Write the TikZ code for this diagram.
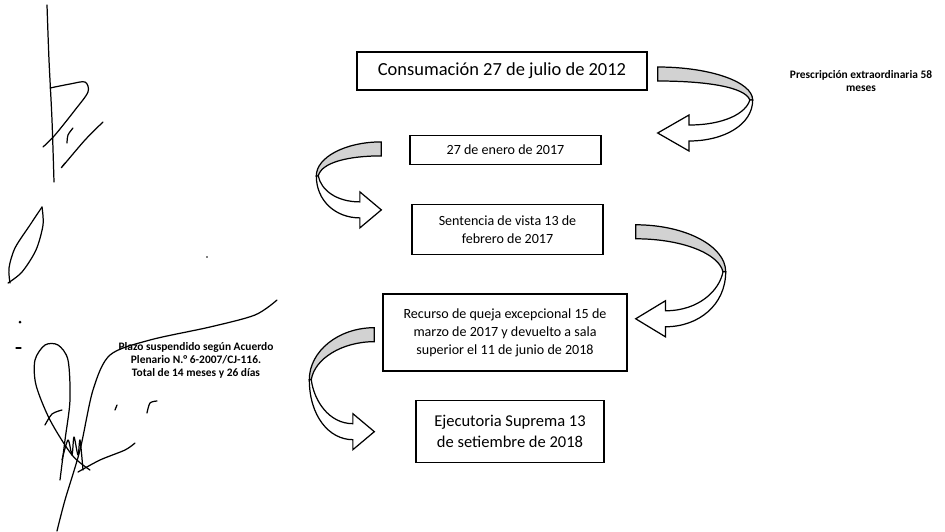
\documentclass[tikz,border=0pt]{standalone}
\usepackage{fontspec}
\setmainfont{Carlito}
\usetikzlibrary{positioning, calc}
\newcommand{\Fs}[2]{\fontsize{#1}{#2}\selectfont}
\tikzset{
    hito/.style={draw, line width=0.8pt, align=center, inner sep=2pt},
    nota/.style={align=center, font=\bfseries\fontsize{6.5}{7.4}\selectfont},
    band back/.style={draw, line width=0.7pt, fill=gray!35},
    band front/.style={draw, line width=0.7pt, fill=white},
    pen/.style={line width=0.7pt, line cap=round, line join=round},
    ribbon w/.initial=90,
    ribbon h/.initial=70,
    ribbon/.pic={
      \pgfmathsetmacro{\W}{\pgfkeysvalueof{/tikz/ribbon w}}
      \pgfmathsetmacro{\H}{\pgfkeysvalueof{/tikz/ribbon h}}
      \pgfmathsetmacro{\J}{0.5*\H}
      \pgfmathsetmacro{\L}{0.33*\W}
      \draw[band back] (0,0) .. controls ({0.55*\W},0) and (\W,{0.45*\J}) .. (\W,\J)
        -- ({0.97*\W},\J) .. controls ({0.92*\W},{0.6*\J}) and ({0.5*\W},14) .. (0,14) -- cycle;
      \draw[band front] (\W,\J) .. controls (\W,{\J+0.6*(\H+8-\J)}) and ({0.7*\W},{\H+8}) .. (\L,{\H+8})
        -- (\L,{\H+18}) -- (0,\H) -- (\L,{\H-18}) -- (\L,{\H-8})
        .. controls ({0.7*\W},{\H-8}) and ({0.93*\W},{\J+0.4*(\H-\J)}) .. ({0.97*\W},\J) -- cycle;
    },
}
\begin{document}
\begin{tikzpicture}[x=0.02cm, y=-0.02cm]
    \useasboundingbox (0,0) rectangle (945,531);

    % hitos del plazo
    \node[hito, minimum width=5.8cm, minimum height=0.76cm, font=\Fs{10.5}{13}] (cons) at (502,71)
        {Consumación 27 de julio de 2012};
    \node[hito, minimum width=3.82cm, minimum height=0.58cm, font=\Fs{8}{10.2}, below=0.88cm of cons, xshift=0.07cm] (enero)
        {27 de enero de 2017};
    \node[hito, minimum width=3.82cm, minimum height=1.0cm, font=\Fs{8}{10.2}, below=0.78cm of enero, xshift=0.04cm] (vista)
        {Sentencia de vista 13 de\\febrero de 2017};
    \node[hito, minimum width=4.88cm, minimum height=1.54cm, font=\Fs{8}{10.2}, below=0.76cm of vista, xshift=-0.05cm] (queja)
        {Recurso de queja excepcional 15 de\\marzo de 2017 y devuelto a sala\\superior el 11 de junio de 2018};
    \node[hito, minimum width=3.76cm, minimum height=1.24cm, font=\Fs{9.4}{11.9}, below=0.56cm of queja, xshift=0.1cm] (suprema)
        {Ejecutoria Suprema 13\\de setiembre de 2018};

    % notas
    \node[nota] (prescr) at (861,81) {Prescripción extraordinaria 58\\meses};
    \node[nota] (plazo) at (196,360) {Plazo suspendido según Acuerdo\\Plenario N.° 6-2007/CJ-116.\\Total de 14 meses y 26 días};

    % flechas curvas
    \pic[ribbon w=95, ribbon h=66] at ($(cons.east)+(10,-4)$) {ribbon};
    \pic[xscale=-1, ribbon w=65, ribbon h=68] at ($(enero.west)+(-28,-8)$) {ribbon};
    \pic[ribbon w=90, ribbon h=94] at ($(vista.east)+(32,-5)$) {ribbon};
    \pic[xscale=-1, ribbon w=65, ribbon h=104] at ($(queja.west)+(-8,-5)$) {ribbon};

    % firma
    \draw[pen] plot[smooth] coordinates {(47,5) (49,60) (52,120) (54,182)};
    \draw[pen] plot[smooth] coordinates {(50,88) (70,84) (85,82) (88,92) (75,110) (55,135) (43,147)};
    \draw[pen] plot[smooth] coordinates {(73,128) (68,135) (67,143)};
    \draw[pen] plot[smooth] coordinates {(103,122) (85,140) (62,167) (65,163)};
    \draw[pen] plot[smooth] coordinates {(42,207) (30,225) (15,248) (9,268) (10,283)};
    \draw[pen] plot[smooth] coordinates {(42,207) (43,225) (36,250) (22,272) (8,283)};
    \fill (20,322) circle (1.5);
    \draw[pen] (16,348) -- (21,348);
    \fill (207,257) circle (0.8);
    \draw[pen] plot[smooth] coordinates {(277,300) (255,315) (210,327) (150,340) (110,355) (93,390) (80,450) (65,500) (57,531)};
    \draw[pen] plot[smooth] coordinates {(90,470) (72,455) (50,420) (36,385) (35,360) (45,345) (58,345) (68,360) (70,400) (65,440) (60,480)};
    \draw[pen] plot[smooth] coordinates {(78,472) (100,460) (125,450) (135,443)};
    \draw[pen] plot[smooth] coordinates {(147,413) (150,403) (157,401)};
    \draw[pen] (117,405) -- (115,410);
    \draw[pen] plot[smooth] coordinates {(45,425) (52,414) (62,410)};
    \draw[pen] plot[smooth] coordinates {(62,460) (68,440) (72,455) (74,437) (78,455) (80,440) (83,470)};
\end{tikzpicture}
\end{document}
